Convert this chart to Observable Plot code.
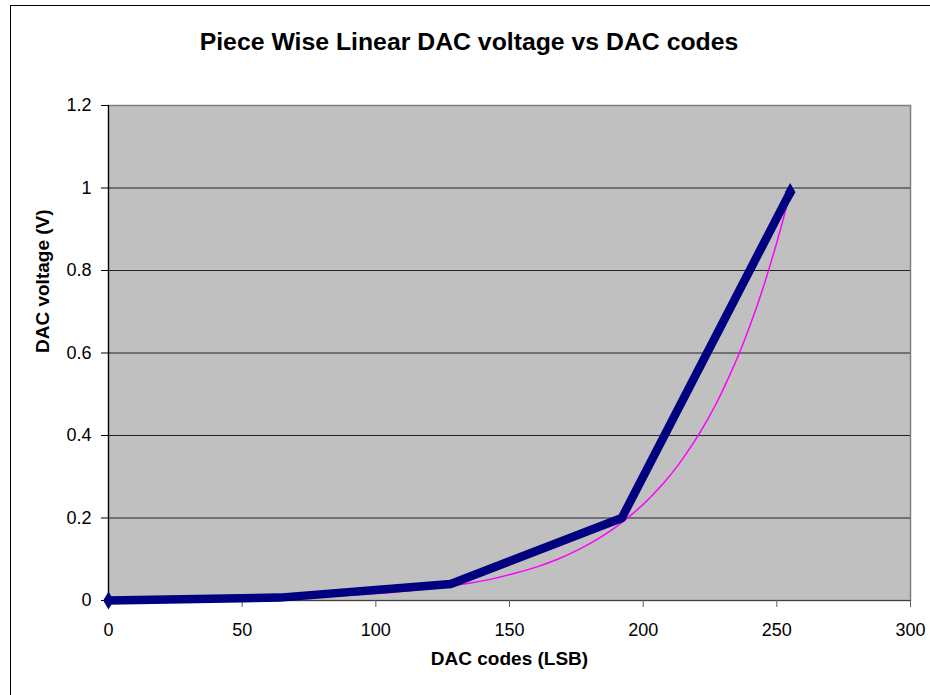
<!DOCTYPE html>
<html>
<head>
<meta charset="utf-8">
<script src="https://cdn.jsdelivr.net/npm/d3@7"></script>
<script src="https://cdn.jsdelivr.net/npm/@observablehq/plot@0.6"></script>
<style>
  html, body { margin: 0; padding: 0; background: #fff; overflow: hidden; }
  #wrap { position: relative; width: 930px; height: 695px; overflow: hidden; font-family: Arial, "Liberation Sans", sans-serif; }
  #title { position: absolute; left: 0; width: 938px; top: 27px; line-height: 30px; text-align: center; font-weight: bold; font-size: 24.8px; color: #000; }
  #border { position: absolute; left: 10px; top: 5px; width: 940px; height: 720px; border: 1px solid #000; pointer-events: none; }
  #chart { position: absolute; left: 0; top: 0; }
</style>
</head>
<body>
<div id="wrap">
  <div id="chart"></div>
  <div id="title">Piece Wise Linear DAC voltage vs DAC codes</div>
  <div id="border"></div>
</div>
<script>
// Piece-wise linear DAC output (breakpoints)
const pwlCodes = [0, 64, 128, 192, 255];
const pwlVolts = [0, 0.007, 0.04, 0.2, 0.99];

// Ideal curve, values
const idealCodes = [0, 16, 32, 48, 64, 80, 96, 112, 128, 136, 144, 152, 160, 168, 176, 184, 188, 192, 196, 200, 204, 208, 212, 216, 220, 224, 228, 232, 236, 240, 244, 248, 250, 252, 254, 255];
const idealVolts = [0.0012, 0.0018, 0.0028, 0.0043, 0.0065, 0.0099, 0.015, 0.023, 0.035, 0.043, 0.053, 0.066, 0.081, 0.100, 0.124, 0.153, 0.170, 0.189, 0.210, 0.233, 0.259, 0.287, 0.319, 0.355, 0.394, 0.438, 0.486, 0.541, 0.600, 0.667, 0.741, 0.824, 0.868, 0.915, 0.964, 0.99];

const xTicks = [0, 50, 100, 150, 200, 250, 300];
const yTicks = [0, 0.2, 0.4, 0.6, 0.8, 1, 1.2];

const xLabel = "DAC codes (LSB)";
const yLabel = "DAC voltage (V)";

const pwl = pwlCodes.map((c, i) => ({code: c, v: pwlVolts[i]}));
const ideal = idealCodes.map((c, i) => ({code: c, v: idealVolts[i]}));
const ends = [pwl[0], pwl[pwl.length - 1]];

const chart = Plot.plot({
  width: 930,
  height: 695,
  marginLeft: 108,
  marginRight: 20,
  marginTop: 105,
  marginBottom: 95,
  style: {fontFamily: "Arial, 'Liberation Sans', sans-serif", fontSize: "18px", background: "transparent", color: "#000"},
  x: {domain: [0, 300], axis: null},
  y: {domain: [0, 1.2], axis: null},
  marks: [
    Plot.frame({fill: "#C0C0C0", stroke: "#808080", strokeWidth: 1.5}),
    Plot.ruleY(yTicks.filter(d => d > 0 && d < 1.2), {stroke: "#222", strokeWidth: 1.2}),
    Plot.ruleX([0], {stroke: "#000", strokeWidth: 1.2}),
    Plot.ruleY([0], {stroke: "#404040", strokeWidth: 1.2}),
    Plot.axisY({ticks: yTicks, tickSize: 7, tickPadding: 10, fontSize: 18, stroke: "#000", fill: "#000",
      tickFormat: d => `${+d.toFixed(1)}`, label: null}),
    Plot.axisX({ticks: xTicks, tickSize: 7, tickPadding: 16, fontSize: 18, stroke: "#606060", fill: "#000",
      tickFormat: d => `${d}`, label: null}),
    Plot.line(ideal, {x: "code", y: "v", stroke: "#FF00FF", strokeWidth: 1.5, curve: "monotone-x"}),
    Plot.line(pwl, {x: "code", y: "v", stroke: "#000080", strokeWidth: 8.5, strokeLinejoin: "round", strokeLinecap: "round"}),
    Plot.dot(ends, {x: "code", y: "v", symbol: "diamond", r: 5.5, fill: "#000080"}),
    Plot.text([xLabel], {text: d => d, frameAnchor: "bottom", dy: 64, fontSize: 19, fontWeight: "bold", fill: "#000"}),
    Plot.text([yLabel], {text: d => d, frameAnchor: "left", dx: -66, rotate: -90, fontSize: 19, fontWeight: "bold", fill: "#000"})
  ]
});
document.getElementById("chart").appendChild(chart);
</script>
</body>
</html>
